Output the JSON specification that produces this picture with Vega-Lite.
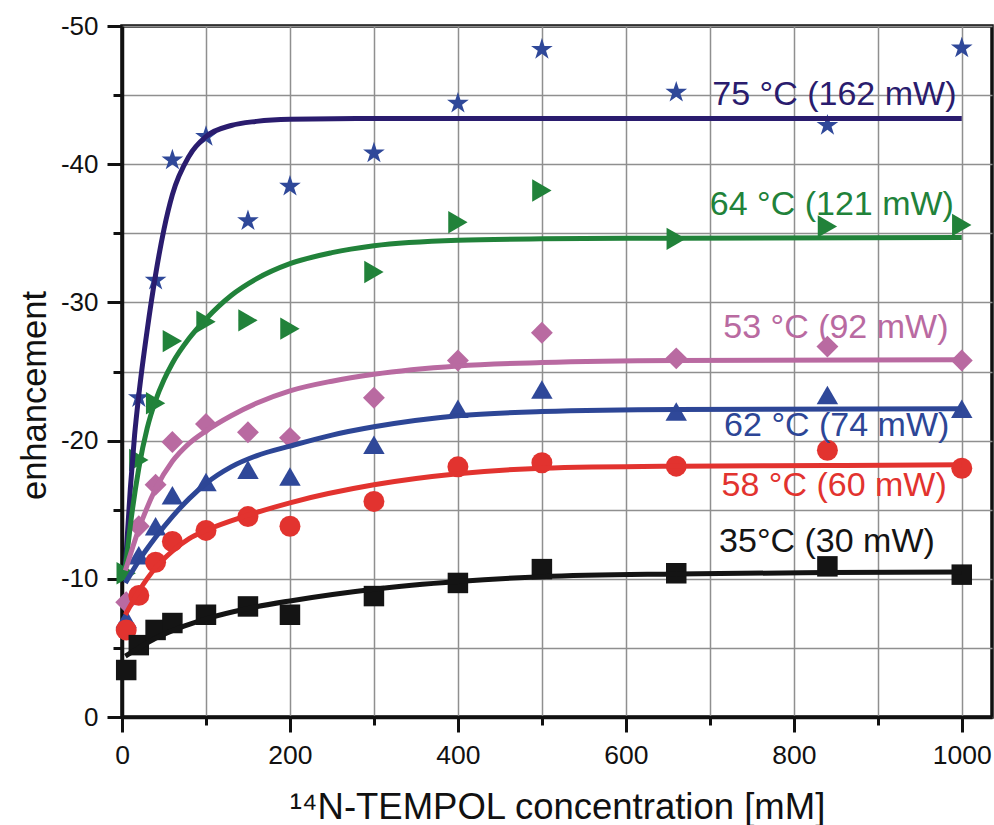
{
  "$schema": "https://vega.github.io/schema/vega-lite/v6.json",
  "width": 870,
  "height": 691,
  "autosize": {"type": "none"},
  "padding": {"left": 122, "top": 26, "right": 2, "bottom": 108},
  "background": "white",
  "config": {
    "font": "Liberation Sans",
    "view": {"stroke": "#111111", "strokeWidth": 3.5}
  },
  "datasets": {
    "points": [
      {"s": "75C", "x": 20, "y": -23.1}, {"s": "75C", "x": 40, "y": -31.6}, {"s": "75C", "x": 60, "y": -40.3}, {"s": "75C", "x": 100, "y": -42.0}, {"s": "75C", "x": 150, "y": -35.9}, {"s": "75C", "x": 200, "y": -38.4}, {"s": "75C", "x": 300, "y": -40.8}, {"s": "75C", "x": 400, "y": -44.4}, {"s": "75C", "x": 500, "y": -48.3}, {"s": "75C", "x": 660, "y": -45.2}, {"s": "75C", "x": 840, "y": -42.8}, {"s": "75C", "x": 1000, "y": -48.4},
      {"s": "64C", "x": 5, "y": -10.4}, {"s": "64C", "x": 20, "y": -18.6}, {"s": "64C", "x": 40, "y": -22.7}, {"s": "64C", "x": 60, "y": -27.2}, {"s": "64C", "x": 100, "y": -28.6}, {"s": "64C", "x": 150, "y": -28.7}, {"s": "64C", "x": 200, "y": -28.1}, {"s": "64C", "x": 300, "y": -32.2}, {"s": "64C", "x": 400, "y": -35.8}, {"s": "64C", "x": 500, "y": -38.1}, {"s": "64C", "x": 660, "y": -34.6}, {"s": "64C", "x": 840, "y": -35.5}, {"s": "64C", "x": 1000, "y": -35.6},
      {"s": "53C", "x": 5, "y": -8.3}, {"s": "53C", "x": 20, "y": -13.8}, {"s": "53C", "x": 40, "y": -16.8}, {"s": "53C", "x": 60, "y": -19.9}, {"s": "53C", "x": 100, "y": -21.2}, {"s": "53C", "x": 150, "y": -20.6}, {"s": "53C", "x": 200, "y": -20.2}, {"s": "53C", "x": 300, "y": -23.1}, {"s": "53C", "x": 400, "y": -25.8}, {"s": "53C", "x": 500, "y": -27.8}, {"s": "53C", "x": 660, "y": -25.95}, {"s": "53C", "x": 840, "y": -26.8}, {"s": "53C", "x": 1000, "y": -25.8},
      {"s": "62C", "x": 5, "y": -7.1}, {"s": "62C", "x": 20, "y": -11.7}, {"s": "62C", "x": 40, "y": -13.8}, {"s": "62C", "x": 60, "y": -16.05}, {"s": "62C", "x": 100, "y": -17.0}, {"s": "62C", "x": 150, "y": -17.9}, {"s": "62C", "x": 200, "y": -17.4}, {"s": "62C", "x": 300, "y": -19.7}, {"s": "62C", "x": 400, "y": -22.3}, {"s": "62C", "x": 500, "y": -23.7}, {"s": "62C", "x": 660, "y": -22.1}, {"s": "62C", "x": 840, "y": -23.3}, {"s": "62C", "x": 1000, "y": -22.3},
      {"s": "58C", "x": 5, "y": -6.3}, {"s": "58C", "x": 20, "y": -8.8}, {"s": "58C", "x": 40, "y": -11.2}, {"s": "58C", "x": 60, "y": -12.7}, {"s": "58C", "x": 100, "y": -13.5}, {"s": "58C", "x": 150, "y": -14.5}, {"s": "58C", "x": 200, "y": -13.8}, {"s": "58C", "x": 300, "y": -15.6}, {"s": "58C", "x": 400, "y": -18.1}, {"s": "58C", "x": 500, "y": -18.4}, {"s": "58C", "x": 660, "y": -18.15}, {"s": "58C", "x": 840, "y": -19.3}, {"s": "58C", "x": 1000, "y": -18.0},
      {"s": "35C", "x": 5, "y": -3.4}, {"s": "35C", "x": 20, "y": -5.2}, {"s": "35C", "x": 40, "y": -6.3}, {"s": "35C", "x": 60, "y": -6.8}, {"s": "35C", "x": 100, "y": -7.4}, {"s": "35C", "x": 150, "y": -8.0}, {"s": "35C", "x": 200, "y": -7.4}, {"s": "35C", "x": 300, "y": -8.75}, {"s": "35C", "x": 400, "y": -9.7}, {"s": "35C", "x": 500, "y": -10.7}, {"s": "35C", "x": 660, "y": -10.4}, {"s": "35C", "x": 840, "y": -10.9}, {"s": "35C", "x": 1000, "y": -10.3}
    ],
    "fits": [
      {"s": "75C", "x": 4, "y": -10.9}, {"s": "75C", "x": 10, "y": -16.6}, {"s": "75C", "x": 15, "y": -20.4}, {"s": "75C", "x": 20, "y": -23.3}, {"s": "75C", "x": 30, "y": -28.0}, {"s": "75C", "x": 40, "y": -32.0}, {"s": "75C", "x": 50, "y": -35.3}, {"s": "75C", "x": 60, "y": -37.8}, {"s": "75C", "x": 80, "y": -40.6}, {"s": "75C", "x": 100, "y": -42.0}, {"s": "75C", "x": 130, "y": -42.8}, {"s": "75C", "x": 160, "y": -43.1}, {"s": "75C", "x": 200, "y": -43.25}, {"s": "75C", "x": 300, "y": -43.3}, {"s": "75C", "x": 600, "y": -43.3}, {"s": "75C", "x": 1000, "y": -43.3},
      {"s": "64C", "x": 4, "y": -10.8}, {"s": "64C", "x": 10, "y": -13.9}, {"s": "64C", "x": 20, "y": -18.0}, {"s": "64C", "x": 30, "y": -20.9}, {"s": "64C", "x": 40, "y": -22.9}, {"s": "64C", "x": 50, "y": -24.4}, {"s": "64C", "x": 60, "y": -25.6}, {"s": "64C", "x": 80, "y": -27.4}, {"s": "64C", "x": 100, "y": -28.8}, {"s": "64C", "x": 130, "y": -30.5}, {"s": "64C", "x": 160, "y": -31.7}, {"s": "64C", "x": 200, "y": -32.8}, {"s": "64C", "x": 250, "y": -33.6}, {"s": "64C", "x": 300, "y": -34.1}, {"s": "64C", "x": 400, "y": -34.5}, {"s": "64C", "x": 500, "y": -34.6}, {"s": "64C", "x": 660, "y": -34.65}, {"s": "64C", "x": 1000, "y": -34.7},
      {"s": "53C", "x": 4, "y": -10.6}, {"s": "53C", "x": 20, "y": -13.6}, {"s": "53C", "x": 40, "y": -16.5}, {"s": "53C", "x": 60, "y": -18.5}, {"s": "53C", "x": 80, "y": -19.8}, {"s": "53C", "x": 100, "y": -20.7}, {"s": "53C", "x": 130, "y": -21.8}, {"s": "53C", "x": 160, "y": -22.7}, {"s": "53C", "x": 200, "y": -23.6}, {"s": "53C", "x": 250, "y": -24.3}, {"s": "53C", "x": 300, "y": -24.8}, {"s": "53C", "x": 400, "y": -25.4}, {"s": "53C", "x": 500, "y": -25.65}, {"s": "53C", "x": 660, "y": -25.8}, {"s": "53C", "x": 1000, "y": -25.85},
      {"s": "62C", "x": 4, "y": -9.7}, {"s": "62C", "x": 20, "y": -11.3}, {"s": "62C", "x": 40, "y": -13.0}, {"s": "62C", "x": 60, "y": -14.5}, {"s": "62C", "x": 80, "y": -15.8}, {"s": "62C", "x": 100, "y": -16.9}, {"s": "62C", "x": 130, "y": -18.1}, {"s": "62C", "x": 160, "y": -18.9}, {"s": "62C", "x": 200, "y": -19.6}, {"s": "62C", "x": 250, "y": -20.4}, {"s": "62C", "x": 300, "y": -21.0}, {"s": "62C", "x": 400, "y": -21.8}, {"s": "62C", "x": 500, "y": -22.1}, {"s": "62C", "x": 660, "y": -22.25}, {"s": "62C", "x": 1000, "y": -22.3},
      {"s": "58C", "x": 4, "y": -7.4}, {"s": "58C", "x": 20, "y": -9.1}, {"s": "58C", "x": 40, "y": -10.8}, {"s": "58C", "x": 60, "y": -12.0}, {"s": "58C", "x": 80, "y": -12.9}, {"s": "58C", "x": 100, "y": -13.5}, {"s": "58C", "x": 150, "y": -14.6}, {"s": "58C", "x": 200, "y": -15.5}, {"s": "58C", "x": 300, "y": -16.8}, {"s": "58C", "x": 400, "y": -17.6}, {"s": "58C", "x": 500, "y": -18.0}, {"s": "58C", "x": 660, "y": -18.15}, {"s": "58C", "x": 840, "y": -18.2}, {"s": "58C", "x": 1000, "y": -18.25},
      {"s": "35C", "x": 4, "y": -4.4}, {"s": "35C", "x": 20, "y": -5.0}, {"s": "35C", "x": 40, "y": -5.7}, {"s": "35C", "x": 60, "y": -6.25}, {"s": "35C", "x": 80, "y": -6.7}, {"s": "35C", "x": 100, "y": -7.1}, {"s": "35C", "x": 150, "y": -7.85}, {"s": "35C", "x": 200, "y": -8.4}, {"s": "35C", "x": 300, "y": -9.25}, {"s": "35C", "x": 400, "y": -9.8}, {"s": "35C", "x": 500, "y": -10.15}, {"s": "35C", "x": 660, "y": -10.35}, {"s": "35C", "x": 840, "y": -10.45}, {"s": "35C", "x": 1000, "y": -10.5}
    ],
    "labels": [
      {"s": "75C", "text": "75 °C (162 mW)", "x": 703, "y": -44.3},
      {"s": "64C", "text": "64 °C (121 mW)", "x": 700, "y": -36.3},
      {"s": "53C", "text": "53 °C (92 mW)", "x": 716, "y": -27.4},
      {"s": "62C", "text": "62 °C (74 mW)", "x": 717, "y": -20.3},
      {"s": "58C", "text": "58 °C (60 mW)", "x": 714, "y": -16.0},
      {"s": "35C", "text": "35°C (30 mW)", "x": 711, "y": -11.95}
    ]
  },
  "encoding": {
    "x": {
      "field": "x", "type": "quantitative",
      "scale": {"domain": [0, 1036], "nice": false, "zero": false},
      "axis": {
        "values": [0, 100, 200, 300, 400, 500, 600, 700, 800, 900, 1000],
        "labelExpr": "datum.value % 200 === 0 ? '' + datum.value : ''",
        "tickSize": {"condition": {"test": "datum.value % 200 === 0", "value": 15}, "value": 8},
        "tickWidth": 3, "tickColor": "#111111",
        "domainColor": "#111111", "domainWidth": 3.5,
        "grid": true, "gridColor": "#8f8f8f", "gridWidth": 1.5,
        "labelFontSize": 26.5, "labelColor": "#111111", "labelPadding": 10, "labelFlush": false,
        "title": "¹⁴N-TEMPOL concentration [mM]",
        "titleFontSize": 36.5, "titleFontWeight": "normal", "titleColor": "#111111",
        "titleBaseline": "alphabetic", "titleY": 101
      }
    },
    "y": {
      "field": "y", "type": "quantitative",
      "scale": {"domain": [-50, 0], "reverse": true, "nice": false, "zero": false},
      "axis": {
        "values": [0, -5, -10, -15, -20, -25, -30, -35, -40, -45, -50],
        "labelExpr": "datum.value % 10 === 0 ? '' + datum.value : ''",
        "tickSize": {"condition": {"test": "datum.value % 10 === 0", "value": 15}, "value": 9},
        "tickWidth": 3, "tickColor": "#111111",
        "domainColor": "#111111", "domainWidth": 3.5,
        "grid": true, "gridColor": "#8f8f8f", "gridWidth": 1.5,
        "labelFontSize": 26, "labelColor": "#111111", "labelPadding": 9, "labelFlush": false,
        "title": "enhancement",
        "titleFontSize": 34.5, "titleFontWeight": "normal", "titleColor": "#111111",
        "titleBaseline": "alphabetic", "titleAngle": -90, "titleAlign": "center",
        "titleX": -77, "titleY": 369
      }
    }
  },
  "layer": [
    {
      "data": {"name": "points"},
      "mark": {"type": "point", "filled": true, "opacity": 1, "strokeWidth": 0},
      "encoding": {
        "color": {"field": "s", "type": "nominal", "legend": null,
          "scale": {"domain": ["75C", "64C", "53C", "62C", "58C", "35C"], "range": ["#2f4899", "#21823a", "#b96aa1", "#2f4899", "#e2332f", "#141414"]}},
        "shape": {"field": "s", "type": "nominal", "legend": null,
          "scale": {"domain": ["75C", "64C", "53C", "62C", "58C", "35C"], "range": ["M0,-1L0.2245,-0.309L0.951,-0.309L0.3633,0.118L0.588,0.809L0,0.382L-0.588,0.809L-0.3633,0.118L-0.951,-0.309L-0.2245,-0.309Z", "triangle-right", "diamond", "triangle-up", "circle", "square"]}},
        "size": {"field": "s", "type": "nominal", "legend": null,
          "scale": {"domain": ["75C", "64C", "53C", "62C", "58C", "35C"], "range": [520, 420, 480, 440, 330, 260]}}
      }
    },
    {
      "data": {"name": "fits"},
      "mark": {"type": "line", "strokeWidth": 5, "interpolate": "monotone"},
      "encoding": {
        "color": {"field": "s", "type": "nominal", "legend": null,
          "scale": {"domain": ["75C", "64C", "53C", "62C", "58C", "35C"], "range": ["#2a1c6e", "#21823a", "#b96aa1", "#2d4696", "#e2332f", "#141414"]}}
      }
    },
    {
      "data": {"name": "labels"},
      "mark": {"type": "text", "align": "left", "baseline": "alphabetic", "fontSize": 34},
      "encoding": {
        "text": {"field": "text"},
        "color": {"field": "s", "type": "nominal", "legend": null,
          "scale": {"domain": ["75C", "64C", "53C", "62C", "58C", "35C"], "range": ["#2a1c6e", "#21823a", "#b96aa1", "#2d4696", "#e2332f", "#141414"]}}
      }
    }
  ],
  "resolve": {"scale": {"color": "independent"}}
}
